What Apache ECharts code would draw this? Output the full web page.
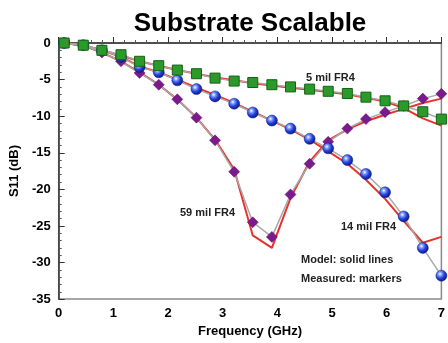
<!DOCTYPE html>
<html>
<head>
<meta charset="utf-8">
<script src="https://cdn.jsdelivr.net/npm/echarts@6/dist/echarts.min.js"></script>
<style>
  html, body { margin: 0; padding: 0; background: #fff; }
  #chart { width: 448px; height: 343px; }
</style>
</head>
<body>
<div id="chart"></div>
<script>
// S11 vs frequency, measured (markers) and model (red lines)
var freq = [0.1, 0.45, 0.79, 1.14, 1.48, 1.83, 2.17, 2.52, 2.86, 3.21, 3.55, 3.9, 4.24, 4.59, 4.93, 5.28, 5.62, 5.97, 6.31, 6.66, 7.0];

var meas5 = [0, -0.3, -1.0, -1.6, -2.5, -3.1, -3.7, -4.2, -4.8, -5.2, -5.4, -5.7, -6.0, -6.3, -6.6, -6.9, -7.4, -7.9, -8.6, -9.4, -10.4];
var meas14 = [0, -0.3, -1.0, -1.9, -3.3, -4.0, -5.1, -6.3, -7.3, -8.3, -9.5, -10.6, -11.7, -13.1, -14.4, -16.0, -17.9, -20.4, -23.7, -28.0, -31.8];
var meas59 = [0, -0.3, -1.3, -2.5, -4.1, -5.7, -7.7, -10.2, -13.3, -17.6, -24.5, -26.5, -20.7, -16.5, -13.5, -11.7, -10.4, -9.45, -8.6, -7.6, -6.95];

var model5 = [0, -0.35, -1.0, -1.7, -2.5, -3.1, -3.7, -4.2, -4.7, -5.1, -5.5, -5.8, -6.1, -6.4, -6.7, -7.0, -7.5, -8.0, -8.9, -10.3, -11.3];
var model14 = [0, -0.3, -1.0, -1.9, -3.2, -4.0, -5.0, -6.1, -7.1, -8.2, -9.4, -10.6, -11.8, -13.2, -14.8, -16.5, -18.7, -21.3, -24.3, -27.3, -26.5];
var model59 = [0, -0.35, -1.3, -2.5, -4.0, -5.7, -7.7, -10.2, -13.2, -17.3, -26.3, -28.0, -21.2, -16.2, -13.3, -11.8, -10.7, -9.8, -9.0, -8.2, -7.6];

var xTicks = [0, 1, 2, 3, 4, 5, 6, 7];
var yTicks = [0, -5, -10, -15, -20, -25, -30, -35];

function pairs(ys) {
  return freq.map(function (f, i) { return [f, ys[i]]; });
}

var FONT = '"Liberation Sans", Arial, sans-serif';
var red = '#e8322e';
var gray = '#a8a8a8';

var blueBall = new echarts.graphic.RadialGradient(0.38, 0.35, 0.65, [
  { offset: 0, color: '#ffffff' },
  { offset: 0.25, color: '#7f9bff' },
  { offset: 0.6, color: '#2240d8' },
  { offset: 1, color: '#0b1a86' }
]);

function model(name, ys) {
  return {
    name: name, type: 'line', data: pairs(ys), showSymbol: false, z: 2,
    lineStyle: { color: red, width: 2 }, animation: false, silent: true
  };
}
function measured(name, ys, symbol, size, style) {
  return {
    name: name, type: 'line', data: pairs(ys), symbol: symbol, symbolSize: size, z: 3,
    showAllSymbol: true,
    lineStyle: { color: gray, width: 1.5 }, itemStyle: style, animation: false, silent: true
  };
}

var chart = echarts.init(document.getElementById('chart'), null, { renderer: 'canvas' });
chart.setOption({
  backgroundColor: '#fff',
  title: {
    text: 'Substrate Scalable', left: 245, top: 6, textAlign: 'center',
    textStyle: { fontFamily: FONT, fontWeight: 'bold', fontSize: 26, color: '#000' }
  },
  grid: { left: 57.5, right: 4, top: 43, bottom: 43, show: true, borderColor: '#8a8a8a', borderWidth: 1.5 },
  xAxis: {
    type: 'value', min: 0, max: 7, interval: 1,
    name: 'Frequency (GHz)', nameLocation: 'middle', nameGap: 22,
    nameTextStyle: { fontFamily: FONT, fontWeight: 'bold', fontSize: 13, color: '#000' },
    axisLine: { lineStyle: { color: '#333', width: 1.5 } },
    axisTick: { inside: true, length: 6, lineStyle: { color: '#333' } },
    minorTick: { show: true, splitNumber: 5, length: 3, lineStyle: { color: '#555' } },
    splitLine: { show: false },
    axisLabel: {
      margin: 8, fontFamily: FONT, fontWeight: 'bold', fontSize: 13, color: '#000',
      formatter: function (v) { return xTicks.indexOf(v) >= 0 ? String(v) : ''; }
    }
  },
  yAxis: {
    type: 'value', min: -35, max: 0, interval: 5,
    name: 'S11 (dB)', nameLocation: 'middle', nameGap: 37, nameRotate: 90,
    nameTextStyle: { fontFamily: FONT, fontWeight: 'bold', fontSize: 13, color: '#000' },
    axisLine: { lineStyle: { color: '#333', width: 1.5 } },
    axisTick: { inside: true, length: 6, lineStyle: { color: '#333' } },
    minorTick: { show: true, splitNumber: 5, length: 3, lineStyle: { color: '#555' } },
    splitLine: { show: false },
    axisLabel: {
      margin: 8, fontFamily: FONT, fontWeight: 'bold', fontSize: 13, color: '#000',
      formatter: function (v) { return yTicks.indexOf(v) >= 0 ? String(v) : ''; }
    }
  },
  graphic: [
    { type: 'text', left: 306, top: 72, style: { text: '5 mil FR4', font: 'bold 11px ' + FONT, fill: '#222' } },
    { type: 'text', left: 180, top: 207, style: { text: '59 mil FR4', font: 'bold 11px ' + FONT, fill: '#222' } },
    { type: 'text', left: 341, top: 221, style: { text: '14 mil FR4', font: 'bold 11px ' + FONT, fill: '#222' } },
    { type: 'text', left: 301, top: 254, style: { text: 'Model: solid lines', font: 'bold 11px ' + FONT, fill: '#222' } },
    { type: 'text', left: 301, top: 273, style: { text: 'Measured: markers', font: 'bold 11px ' + FONT, fill: '#222' } }
  ],
  series: [
    model('Model 5 mil', model5),
    model('Model 14 mil', model14),
    model('Model 59 mil', model59),
    measured('Measured 59 mil', meas59, 'diamond', 11, { color: '#7b1a8c', borderColor: '#5a0f68', borderWidth: 0.5 }),
    measured('Measured 14 mil', meas14, 'circle', 11, { color: blueBall, borderColor: '#0b1a86', borderWidth: 0.5 }),
    measured('Measured 5 mil', meas5, 'rect', 10, { color: '#2a9a2a', borderColor: '#156015', borderWidth: 1 })
  ]
});
</script>
</body>
</html>
